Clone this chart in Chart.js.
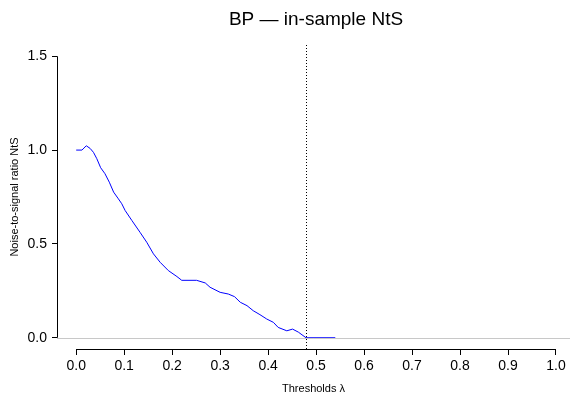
<!DOCTYPE html>
<html>
<head>
<meta charset="utf-8">
<script src="https://cdn.jsdelivr.net/npm/chart.js@4/dist/chart.umd.min.js"></script>
<style>
  html, body { margin: 0; padding: 0; background: #fff; overflow: hidden; }
</style>
</head>
<body>
<canvas id="ntsChart" width="570" height="399"></canvas>
<script>
const chartTitle = 'BP \u2014 in-sample NtS';
const xTitle = 'Thresholds \u03bb';
const yTitle = 'Noise-to-signal ratio NtS';

// thresholds and the NtS
const lambdas = [0.000, 0.012, 0.021, 0.029, 0.036, 0.043, 0.051, 0.060, 0.069, 0.078,
  0.088, 0.095, 0.102, 0.116, 0.133, 0.147, 0.161, 0.175, 0.192, 0.210,
  0.220, 0.251, 0.269, 0.279, 0.300, 0.317, 0.330, 0.342, 0.356, 0.369,
  0.383, 0.397, 0.411, 0.421, 0.439, 0.451, 0.463, 0.479, 0.540];
const nts = [1.000, 1.000, 1.023, 1.009, 0.988, 0.954, 0.906, 0.874, 0.829, 0.776,
  0.740, 0.714, 0.678, 0.625, 0.562, 0.509, 0.447, 0.402, 0.358, 0.326,
  0.306, 0.306, 0.292, 0.269, 0.242, 0.233, 0.219, 0.189, 0.171, 0.144,
  0.123, 0.100, 0.082, 0.055, 0.037, 0.046, 0.030, 0.000, 0.000];

const thresholdStar = 0.479;
const xTicks = [0.0, 0.1, 0.2, 0.3, 0.4, 0.5, 0.6, 0.7, 0.8, 0.9, 1.0];
const yTicks = [0.0, 0.5, 1.0, 1.5];

const font = 'Liberation Sans, Arial, sans-serif';

// R-style extras: axis lines only over the tick range, h=0 line, dotted optimum, title
const rStyle = {
  id: 'rStyle',
  afterDatasetsDraw(chart) {
    const { ctx, chartArea, scales: { x, y } } = chart;
    ctx.save();
    ctx.lineWidth = 1;
    // abline h = 0, drawn over the curve
    const y0 = Math.round(y.getPixelForValue(0)) + 0.5;
    ctx.strokeStyle = '#c8c8c8';
    ctx.beginPath();
    ctx.moveTo(chartArea.left, y0);
    ctx.lineTo(chartArea.right, y0);
    ctx.stroke();

    ctx.strokeStyle = '#000';
    // dotted vertical at best threshold
    const xv = Math.round(x.getPixelForValue(thresholdStar)) + 0.5;
    ctx.setLineDash([1, 2]);
    ctx.beginPath();
    ctx.moveTo(xv, chartArea.top);
    ctx.lineTo(xv, chartArea.bottom);
    ctx.stroke();
    ctx.setLineDash([]);
    // y axis line
    const ax = Math.round(chartArea.left) + 0.5;
    ctx.beginPath();
    ctx.moveTo(ax, y.getPixelForValue(yTicks[0]));
    ctx.lineTo(ax, y.getPixelForValue(yTicks[yTicks.length - 1]));
    ctx.stroke();
    // x axis line
    const ay = Math.round(chartArea.bottom) + 0.5;
    ctx.beginPath();
    ctx.moveTo(x.getPixelForValue(xTicks[0]), ay);
    ctx.lineTo(x.getPixelForValue(xTicks[xTicks.length - 1]), ay);
    ctx.stroke();
    // title
    ctx.fillStyle = '#000';
    ctx.font = '19px ' + font;
    ctx.textAlign = 'center';
    ctx.textBaseline = 'middle';
    ctx.fillText(chartTitle, (chartArea.left + chartArea.right + 5) / 2, 20);
    ctx.restore();
  }
};

const ctx = document.getElementById('ntsChart').getContext('2d');

new Chart(ctx, {
  type: 'scatter',
  data: {
    datasets: [{
      data: lambdas.map((l, i) => ({ x: l, y: nts[i] })),
      showLine: true,
      borderColor: '#0000ff',
      borderWidth: 1,
      pointRadius: 0,
      tension: 0
    }]
  },
  options: {
    responsive: false,
    animation: false,
    devicePixelRatio: 1,
    layout: { padding: { left: 0, top: 45, right: 0, bottom: 0 } },
    plugins: {
      legend: { display: false },
      tooltip: { enabled: false }
    },
    scales: {
      x: {
        type: 'linear',
        min: -0.04,
        max: 1.0292,
        afterFit: s => { s.height = 50; },
        afterBuildTicks: s => { s.ticks = xTicks.map(v => ({ value: v })); },
        ticks: {
          callback: v => Number(v).toFixed(1),
          color: '#000',
          font: { family: font, size: 14 },
          padding: 3,
          maxRotation: 0,
          autoSkip: false
        },
        grid: { drawOnChartArea: false, drawTicks: true, tickLength: 6, color: '#000' },
        border: { display: false },
        title: {
          display: true,
          text: xTitle,
          color: '#000',
          font: { family: font, size: 11 },
          padding: { top: 0, bottom: 3 }
        }
      },
      y: {
        type: 'linear',
        min: -0.06,
        max: 1.56,
        afterFit: s => { s.width = 57; },
        afterBuildTicks: s => { s.ticks = yTicks.map(v => ({ value: v })); },
        ticks: {
          callback: v => Number(v).toFixed(1),
          color: '#000',
          font: { family: font, size: 14 },
          padding: 5,
          autoSkip: false
        },
        grid: { drawOnChartArea: false, drawTicks: true, tickLength: 5, color: '#000' },
        border: { display: false },
        title: {
          display: true,
          text: yTitle,
          color: '#000',
          font: { family: font, size: 11 },
          padding: { top: 8, bottom: 0 }
        }
      }
    }
  },
  plugins: [rStyle]
});
</script>
</body>
</html>
